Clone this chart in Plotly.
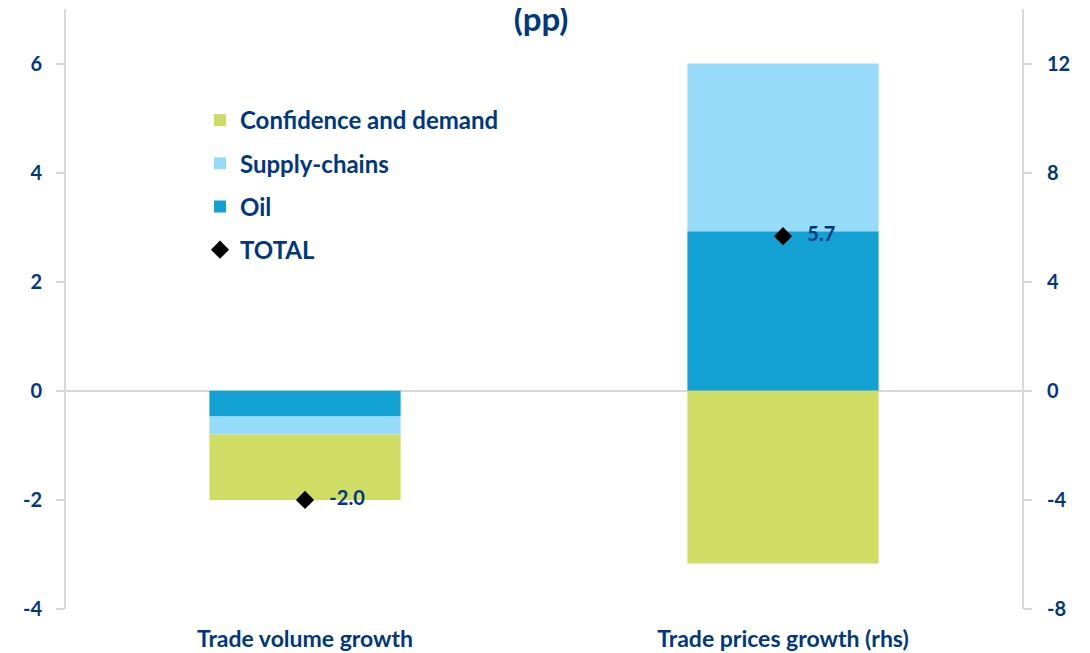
import plotly.graph_objects as go

categories = ["Trade volume growth", "Trade prices growth (rhs)"]
confidence = [-1.2, -6.33]
supply = [-0.33, 6.15]
oil = [-0.47, 5.85]
total = [-2.0, 5.67]
total_labels = ["-2.0", "5.7"]
left_ticks = [-4, -2, 0, 2, 4, 6]
right_ticks = [-8, -4, 0, 4, 8, 12]

c_conf = "#cfdd64"
c_sup = "#96dcfa"
c_oil = "#13a0d3"
navy = "#003781"
fontfam = "Lato"

fig = go.Figure()

series = [("Oil", oil, c_oil, 3), ("Supply-chains", supply, c_sup, 2), ("Confidence and demand", confidence, c_conf, 1)]
for i, axis in enumerate(["y", "y2"]):
    for name, vals, col, rank in series:
        fig.add_trace(go.Bar(
            x=[categories[i]], y=[vals[i]], name=name, yaxis=axis,
            marker=dict(color=col, line=dict(width=0)), width=0.4,
            legendgroup=name, legendrank=rank, showlegend=(i == 0),
        ))
    fig.add_trace(go.Scatter(
        x=[categories[i]], y=[total[i]], name="TOTAL", yaxis=axis,
        mode="markers+text", text=["   " + total_labels[i]], textposition="middle right",
        textfont=dict(color=navy, size=20, family=fontfam, weight=700),
        marker=dict(symbol="diamond", color="black", size=14),
        legendgroup="TOTAL", legendrank=4, showlegend=(i == 0), cliponaxis=False,
    ))

fig.update_layout(
    width=1090, height=653,
    barmode="relative",
    plot_bgcolor="white", paper_bgcolor="white",
    margin=dict(l=58, r=76, t=1, b=52),
    font=dict(family=fontfam, color=navy, size=20, weight=700),
    title=dict(text="(pp)", x=(541 - 8) / 1090, xanchor="center", y=1 - 11 / 653, yanchor="middle",
               automargin=False,
               font=dict(size=33, color=navy, family=fontfam, weight=700)),
    showlegend=True,
    legend=dict(x=(200 - 66) / 956, y=(609 - 98) / 600, xanchor="left", yanchor="top",
                bgcolor="rgba(0,0,0,0)",
                traceorder="grouped", tracegroupgap=9, font=dict(size=24, color=navy, weight=700),
                itemwidth=30),
    xaxis=dict(showline=False, ticks="", showgrid=False, ticklabelstandoff=14, automargin=False,
               tickfont=dict(size=23, color=navy, weight=700)),
    yaxis=dict(range=[-4, 7], tickvals=left_ticks, ticktext=[str(v) for v in left_ticks],
               showgrid=False, automargin=False,
               zeroline=True, zerolinecolor="#d9d9d9", zerolinewidth=2,
               showline=True, linecolor="#d9d9d9", linewidth=2,
               ticks="outside", ticklen=8, tickcolor="#d9d9d9", tickwidth=2,
               ticklabelstandoff=10, tickfont=dict(size=20, color=navy, weight=700)),
    yaxis2=dict(range=[-8, 14], tickvals=right_ticks, ticktext=[str(v) for v in right_ticks],
                overlaying="y", side="right", automargin=False,
                showgrid=False, zeroline=False,
                showline=True, linecolor="#d9d9d9", linewidth=2,
                ticks="outside", ticklen=8, tickcolor="#d9d9d9", tickwidth=2,
                ticklabelstandoff=11, tickfont=dict(size=20, color=navy, weight=700)),
)

fig.write_html("out.html")
